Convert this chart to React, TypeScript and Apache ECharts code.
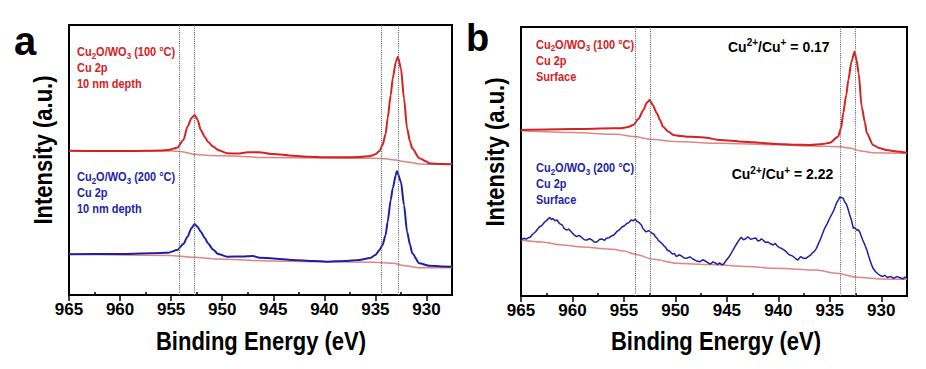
import React, { useEffect, useRef } from 'react';
import * as echarts from 'echarts';

const FONT = "'Liberation Sans', Arial, Helvetica, sans-serif";

const majorTicks = [965, 960, 955, 950, 945, 940, 935, 930];
const minorTicks = [962.5, 957.5, 952.5, 947.5, 942.5, 937.5, 932.5, 927.5];
const dottedA = [954.2, 952.7, 934.4, 932.8];
const dottedB = [953.9, 952.4, 934.0, 932.5];

// Panel a: Cu2O/WO3 (100 °C), 10 nm depth
const aRed: number[][] = [
  [965, 144.3], [962, 144], [959, 144], [956, 144.5], [955.3, 145], [954.4, 147.3], [953.8, 155],
  [953.4, 168.3], [953.0, 177], [952.7, 180], [952.4, 175], [952.1, 165], [951.7, 158], [951.4, 153.3],
  [950.9, 148.5], [950.4, 145], [949.5, 141.7], [948.5, 141.5], [947.5, 142.7], [946.4, 142.7],
  [945, 141], [943.1, 139.3], [941.5, 138.3], [939.8, 137.7], [938, 137.7], [936.6, 138], [935.5, 139],
  [935.0, 140.7], [934.6, 144], [934.3, 150], [934.0, 161], [933.8, 176.7], [933.5, 200], [933.3, 216.7],
  [933.0, 233], [932.8, 238.3], [932.5, 226.7], [932.2, 196.7], [931.9, 166.7], [931.6, 153],
  [931.4, 146.7], [930.7, 136.7], [930, 133.5], [929.75, 131.7], [928.5, 131], [927.5, 130.7],
];
const aRedBg: number[][] = [
  [965, 144.3], [955, 144], [954, 143.3], [952.7, 140.7], [951, 139.5], [949, 139], [946, 137.5],
  [940, 137], [935, 136.7], [934, 136.2], [933, 135], [932.3, 133.5], [931.5, 132.5], [930.7, 131],
  [929, 130.7], [927.5, 130.7],
];
// Panel a: Cu2O/WO3 (200 °C), 10 nm depth
const aBlue: number[][] = [
  [965, 40.7], [960, 41], [956, 42], [955.3, 42.3], [954.4, 45], [953.8, 51], [953.4, 58.3], [953.0, 67],
  [952.7, 71], [952.4, 68], [952.1, 63.3], [951.7, 57], [951.4, 51.7], [950.9, 45.5], [950.4, 41],
  [949.5, 38.3], [948, 38.5], [947, 39], [946.35, 37.3], [945, 36.5], [943.1, 35], [941, 34],
  [939.8, 33.3], [938, 34], [936.6, 35], [935.5, 37], [935.0, 40], [934.6, 45], [934.3, 50], [934.0, 60],
  [933.8, 73.3], [933.5, 95], [933.3, 106.7], [933.0, 120], [932.9, 124], [932.5, 113.3], [932.2, 90],
  [931.9, 63.3], [931.6, 50], [931.4, 41.7], [930.7, 31.7], [929.75, 29.3], [928.5, 28.5], [927.5, 28.3],
];
const aBlueBg: number[][] = [
  [965, 40.7], [955, 39.5], [954.4, 39], [952.7, 37.7], [950.4, 36], [946.35, 34.3], [940, 33.2],
  [935, 32.7], [933.3, 31.7], [932.1, 29.3], [930.7, 27.3], [929, 27.3], [927.5, 27.3],
];

// Panel b: surface
const bRed: number[][] = [
  [965, 166], [960, 167], [956, 167.7], [955.4, 167.7], [954.6, 169], [954.1, 171], [953.6, 177],
  [953.1, 186], [952.8, 193], [952.5, 196], [952.2, 191], [951.8, 182.7], [951.5, 176], [951.2, 169.3],
  [950.7, 164.5], [950.2, 161], [949.5, 160], [948.9, 159.3], [948, 159], [947, 158.3], [945.7, 156],
  [943.4, 154.3], [941.5, 153], [940.2, 152], [938.5, 151.3], [936.9, 151], [935.7, 152], [935, 153.3],
  [934.2, 159.3], [933.9, 168], [933.7, 182.7], [933.4, 201], [933.2, 216], [932.9, 234], [932.6, 244.3],
  [932.4, 236], [932.2, 222.7], [931.9, 189.3], [931.6, 174], [931.4, 162.7], [930.8, 151], [930.2, 148],
  [929.5, 146], [928.5, 144.5], [927.5, 143.3],
];
const bRedBg: number[][] = [
  [965, 165.3], [960, 163.5], [955.7, 161.7], [954, 159.5], [952.4, 156.7], [950, 154.5], [945.7, 152.7],
  [940, 151.2], [936.9, 150], [934, 149.3], [933, 147.7], [932, 145], [930.8, 143.3], [927.5, 142.7],
];
const bBlue: number[][] = [
  [965, 56], [964.7, 57.8], [964.5, 56.9], [964.3, 58.2], [964.1, 58.7], [963.9, 61.5], [963.6, 64],
  [963.4, 66.8], [963.2, 69.3], [963.0, 70.2], [962.7, 74], [962.5, 75.6], [962.2, 78.7], [962.05, 76.4],
  [961.9, 77.5], [961.7, 75.2], [961.5, 76], [961.25, 72.3], [961, 71], [960.8, 67.4], [960.6, 66],
  [960.35, 66.8], [960.1, 64], [959.85, 61.2], [959.6, 59.3], [959.35, 60.6], [959.1, 58.5], [958.85, 56.3],
  [958.6, 56], [958.35, 57.4], [958.1, 56], [957.85, 53.7], [957.6, 54.3], [957.35, 56.8], [957.1, 57],
  [956.9, 55.6], [956.7, 57.7], [956.45, 58.3], [956.2, 60], [955.95, 61.2], [955.7, 64.3], [955.45, 66.1],
  [955.2, 69], [954.95, 70.2], [954.7, 72.7], [954.5, 73.4], [954.3, 76], [954.1, 75.3], [953.9, 76.7],
  [953.75, 74.8], [953.6, 74], [953.45, 72.6], [953.3, 71], [953.15, 67.3], [953.0, 66], [952.9, 64.3],
  [952.8, 64.3], [952.6, 65.4], [952.4, 64], [952.25, 62.6], [952.1, 62], [951.95, 59.4], [951.8, 58],
  [951.65, 55.3], [951.5, 54.3], [951.3, 52.4], [951.1, 50], [950.95, 48.6], [950.8, 46], [950.55, 44.8],
  [950.3, 42], [950.1, 42.5], [949.9, 39.3], [949.65, 41.2], [949.4, 40], [949.15, 38.1], [948.9, 37.7],
  [948.6, 39.2], [948.3, 37], [947.95, 35.1], [947.6, 34.3], [947.35, 36.2], [947.1, 35], [946.85, 33.4],
  [946.6, 32], [946.35, 34.1], [946.1, 33], [945.9, 31.4], [945.7, 33.3], [945.5, 31.2], [945.3, 32],
  [945.05, 35.8], [944.8, 39], [944.6, 42.3], [944.4, 46], [944.2, 49.6], [944, 53], [943.8, 56.2],
  [943.6, 58.7], [943.4, 56.3], [943.2, 57], [942.95, 59.2], [942.7, 56.7], [942.45, 57.4], [942.2, 58],
  [942.0, 55.1], [941.8, 55.5], [941.65, 57.3], [941.5, 56], [941.25, 53.6], [941, 54], [940.75, 52.2],
  [940.5, 51], [940.3, 52.6], [940.1, 50], [939.9, 48.4], [939.7, 47.7], [939.5, 46.3], [939.3, 45],
  [939.1, 42.7], [938.9, 41], [938.7, 40.4], [938.5, 39], [938.3, 37.2], [938.1, 36], [937.85, 39.4],
  [937.6, 38], [937.35, 37.4], [937.1, 39.3], [936.9, 40.6], [936.7, 43], [936.5, 44.7], [936.3, 47.7],
  [936.1, 52.4], [935.9, 57], [935.7, 62.5], [935.5, 67.7], [935.25, 72.4], [935, 78], [934.8, 81.9],
  [934.6, 86], [934.45, 90.1], [934.3, 94], [934.15, 96.3], [934, 99.3], [933.85, 98.4], [933.7, 97.7],
  [933.55, 94.1], [933.4, 92], [933.3, 89.2], [933.2, 86], [933.05, 80.4], [932.9, 76], [932.8, 71.2],
  [932.7, 67.7], [932.55, 68.4], [932.4, 66], [932.25, 66.3], [932.1, 64.3], [931.95, 60.1], [931.8, 56],
  [931.6, 51.3], [931.4, 46], [931.25, 40.8], [931.1, 36], [930.95, 31.4], [930.8, 27.7], [930.55, 24.3],
  [930.3, 22], [930.1, 20.6], [929.9, 19.3], [929.65, 20.7], [929.4, 18.5], [929.1, 19.6], [928.8, 17.7],
  [928.5, 19.4], [928.2, 18.5], [927.9, 17.1], [927.7, 18.9], [927.5, 17.7],
];
const bBlueBg: number[][] = [
  [965, 56], [963, 54], [961, 51], [959, 49], [956, 46.7], [955, 45], [954, 42], [952.1, 36.7],
  [949.9, 32.7], [946.6, 31.5], [943, 29.5], [940.2, 27.7], [936.3, 26], [934.3, 22.7], [932.4, 18.7],
  [929.8, 17], [927.5, 16.7],
];

const RED = '#d42222';
const BLUE = '#1f1fa6';
const PINK = '#e08585';

function xAxesFor(gridIndex: number) {
  const base = {
    type: 'value' as const,
    gridIndex,
    min: 927.5,
    max: 965,
    interval: 2.5,
    inverse: true,
    splitLine: { show: false },
  };
  return [
    {
      ...base,
      axisLine: { show: true, onZero: false, lineStyle: { color: '#000', width: 2 } },
      axisTick: { show: true, inside: false, length: 6, customValues: majorTicks, lineStyle: { color: '#000', width: 1.5 } },
      axisLabel: {
        show: true, customValues: majorTicks, margin: 6, color: '#000', fontSize: 17, fontWeight: 'bold',
        fontFamily: FONT,
      },
    },
    {
      ...base,
      axisLine: { show: false },
      axisTick: { show: true, inside: false, length: 3, customValues: minorTicks, lineStyle: { color: '#000', width: 1.5 } },
      axisLabel: { show: false },
    },
  ];
}

function yAxisFor(gridIndex: number, max: number) {
  return {
    type: 'value' as const,
    gridIndex,
    min: 0,
    max,
    axisLine: { show: true, onZero: false, lineStyle: { color: '#000', width: 2 } },
    axisTick: { show: false },
    axisLabel: { show: false },
    splitLine: { show: false },
  };
}

function line(data: number[][], xAxisIndex: number, yAxisIndex: number, color: string, width: number, z: number, extra: any = {}) {
  return {
    type: 'line',
    data,
    xAxisIndex,
    yAxisIndex,
    showSymbol: false,
    symbol: 'none',
    smooth: 0.25,
    smoothMonotone: 'x',
    lineStyle: { color, width },
    z,
    silent: true,
    ...extra,
  };
}

function dotted(values: number[]) {
  return {
    silent: true,
    symbol: ['none', 'none'],
    label: { show: false },
    lineStyle: { type: 'dotted', color: '#666', width: 1.1 },
    data: values.map((v) => ({ xAxis: v })),
  };
}

const richBase = (fill: string, size: number) => ({
  n: { fontSize: size, fontWeight: 'bold', fontFamily: FONT, fill, lineHeight: size + 4, verticalAlign: 'middle' },
  s: { fontSize: Math.round(size * 0.7), fontWeight: 'bold', fontFamily: FONT, fill, lineHeight: Math.round(size * 0.7), verticalAlign: 'bottom' },
  p: { fontSize: Math.round(size * 0.7), fontWeight: 'bold', fontFamily: FONT, fill, lineHeight: Math.round(size * 0.7), verticalAlign: 'top' },
});

function richText(x: number, y: number, text: string, fill: string, size: number, scaleY = 1) {
  return {
    type: 'text',
    x,
    y,
    scaleY,
    silent: true,
    style: { text, fill, align: 'left', verticalAlign: 'middle', rich: richBase(fill, size), fontSize: size, fontWeight: 'bold', fontFamily: FONT },
  };
}

function plainText(x: number, y: number, text: string, size: number, opts: any = {}) {
  return {
    type: 'text',
    x,
    y,
    silent: true,
    rotation: opts.rotation || 0,
    scaleX: opts.scaleX || 1,
    scaleY: opts.scaleY || 1,
    style: {
      text, fill: '#000', fontSize: size, fontWeight: 'bold', fontFamily: FONT,
      align: opts.align || 'center', verticalAlign: 'middle',
    },
  };
}

function sampleLabel(x: number, y0: number, temp: string, third: string, fill: string) {
  return [
    richText(x, y0, `{n|Cu}{s|2}{n|O/WO}{s|3}{n| (${temp} °C)}`, fill, 11, 1.12),
    richText(x, y0 + 16, '{n|Cu 2p}', fill, 11, 1.12),
    richText(x, y0 + 32, `{n|${third}}`, fill, 11, 1.12),
  ];
}

export default function App() {
  const ref = useRef<HTMLDivElement>(null);
  useEffect(() => {
    if (!ref.current) return;
    const chart = echarts.init(ref.current, undefined, { renderer: 'svg' });
    chart.setOption({
      animation: false,
      backgroundColor: '#fff',
      grid: [
        { left: 69, top: 25, width: 383, height: 270, show: true, borderColor: '#000', borderWidth: 2, backgroundColor: 'transparent' },
        { left: 521, top: 27, width: 386, height: 269, show: true, borderColor: '#000', borderWidth: 2, backgroundColor: 'transparent' },
      ],
      xAxis: [...xAxesFor(0), ...xAxesFor(1)],
      yAxis: [yAxisFor(0, 270), yAxisFor(1, 269)],
      series: [
        line(aRedBg, 0, 0, PINK, 1.5, 2),
        line(aBlueBg, 0, 0, PINK, 1.5, 2),
        line(aRed, 0, 0, RED, 2, 3, { markLine: dotted(dottedA) }),
        line(aBlue, 0, 0, BLUE, 2, 3),
        line(bRedBg, 2, 1, PINK, 1.5, 2),
        line(bBlueBg, 2, 1, PINK, 1.5, 2),
        line(bRed, 2, 1, RED, 2, 3, { markLine: dotted(dottedB) }),
        line(bBlue, 2, 1, BLUE, 1.5, 3, { smooth: false }),
      ],
      graphic: [
        plainText(14, 41, 'a', 40, { align: 'left' }),
        plainText(466, 38, 'b', 38, { align: 'left' }),
        plainText(43, 150, 'Intensity (a.u.)', 22, { rotation: Math.PI / 2, scaleY: 1.15 }),
        plainText(495, 152, 'Intensity (a.u.)', 22, { rotation: Math.PI / 2, scaleY: 1.15 }),
        plainText(261, 341, 'Binding Energy (eV)', 22, { scaleY: 1.2 }),
        plainText(716, 341, 'Binding Energy (eV)', 22, { scaleY: 1.2 }),
        ...sampleLabel(77, 51.7, '100', '10 nm depth', RED),
        ...sampleLabel(77, 176.7, '200', '10 nm depth', BLUE),
        ...sampleLabel(536, 44.3, '100', 'Surface', RED),
        ...sampleLabel(536, 167.7, '200', 'Surface', BLUE),
        richText(728, 46.7, '{n|Cu}{p|2+}{n|/Cu}{p|+}{n| = 0.17}', '#000', 14, 1.1),
        richText(731.7, 174, '{n|Cu}{p|2+}{n|/Cu}{p|+}{n| = 2.22}', '#000', 14, 1.1),
      ],
    });
    return () => chart.dispose();
  }, []);
  return (
    <div
      ref={ref}
      style={{ position: 'fixed', left: 0, top: 0, width: 926, height: 369, background: '#fff' }}
    />
  );
}
